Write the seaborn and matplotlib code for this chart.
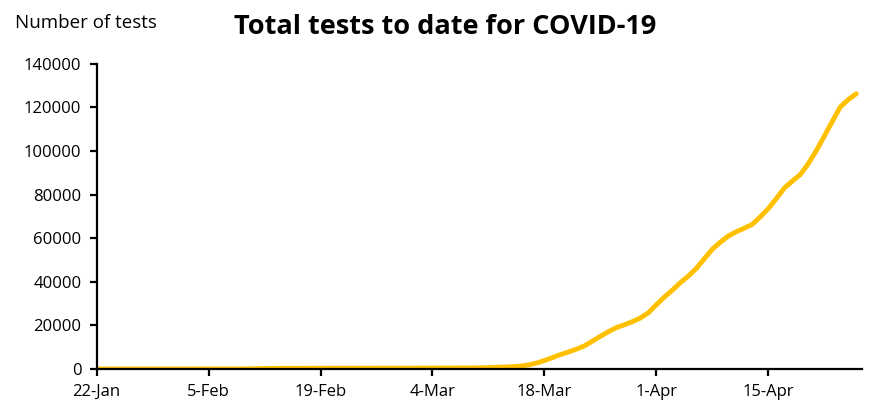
import seaborn as sns
import matplotlib.pyplot as plt
import numpy as np
import pandas as pd

# cumulative tests per day, 22-Jan to 26-Apr
dates = pd.date_range("2020-01-22", "2020-04-26", freq="D")
tests = [0, 0, 0, 0, 0, 0, 0, 0, 0, 0,
         0, 0, 0, 10, 10, 20, 20, 30, 40, 60,
         150, 220, 280, 300, 310, 320, 330, 340, 350, 355,
         360, 365, 370, 375, 380, 385, 390, 395, 400, 405,
         410, 420, 430, 440, 450, 460, 480, 500,
         560, 650, 780, 900, 1050, 1350, 1850, 2700, 3900, 5200,
         6600, 7800, 9100, 10600, 12800, 15000, 17100, 19000, 20300, 21700,
         23400, 25800, 29500, 33000, 36200, 39600, 42600, 46200, 50600, 55000,
         58200, 61000, 63000, 64600, 66400, 69800, 73600, 78200, 83000, 86200,
         89200, 94200, 100200, 106800, 113600, 120200, 123600, 126300]
tick_dates = pd.to_datetime(["2020-01-22", "2020-02-05", "2020-02-19", "2020-03-04",
                             "2020-03-18", "2020-04-01", "2020-04-15"])
tick_labels = ["22-Jan", "5-Feb", "19-Feb", "4-Mar", "18-Mar", "1-Apr", "15-Apr"]
y_ticks = [0, 20000, 40000, 60000, 80000, 100000, 120000, 140000]

df = pd.DataFrame({"date": dates, "tests": tests})

sns.set_style("white")
plt.rcParams["font.family"] = ["Open Sans", "DejaVu Sans"]

fig = plt.figure(figsize=(8.95, 4.12), dpi=100)
ax = fig.add_axes([0.108, 0.1044, 0.855, 0.7406])
sns.lineplot(data=df, x="date", y="tests", color="#FFC000", linewidth=3.5,
             solid_capstyle="round", ax=ax)

ax.set_xlim(dates[0], dates[-1] + pd.Timedelta(days=0.7))
ax.set_ylim(0, 140000)
ax.set_xticks(tick_dates)
ax.set_xticklabels(tick_labels)
ax.set_yticks(y_ticks)
ax.set_yticklabels([str(v) for v in y_ticks])
ax.set_xlabel("")
ax.set_ylabel("")

for s in ["top", "right"]:
    ax.spines[s].set_visible(False)
for s in ["left", "bottom"]:
    ax.spines[s].set_color("black")
    ax.spines[s].set_linewidth(1.6)
ax.tick_params(axis="both", direction="out", length=5, width=1.6, color="black",
               labelsize=12, labelcolor="black", pad=6)
ax.tick_params(axis="x", bottom=True)
ax.tick_params(axis="y", left=True)

fig.text(0.497, 0.935, "Total tests to date for COVID-19", ha="center", va="center",
         fontsize=19.5, fontweight="bold", color="black")
fig.text(0.017, 0.945, "Number of tests", ha="left", va="center",
         fontsize=13.5, color="black")

fig.savefig("out.png", dpi=100)
